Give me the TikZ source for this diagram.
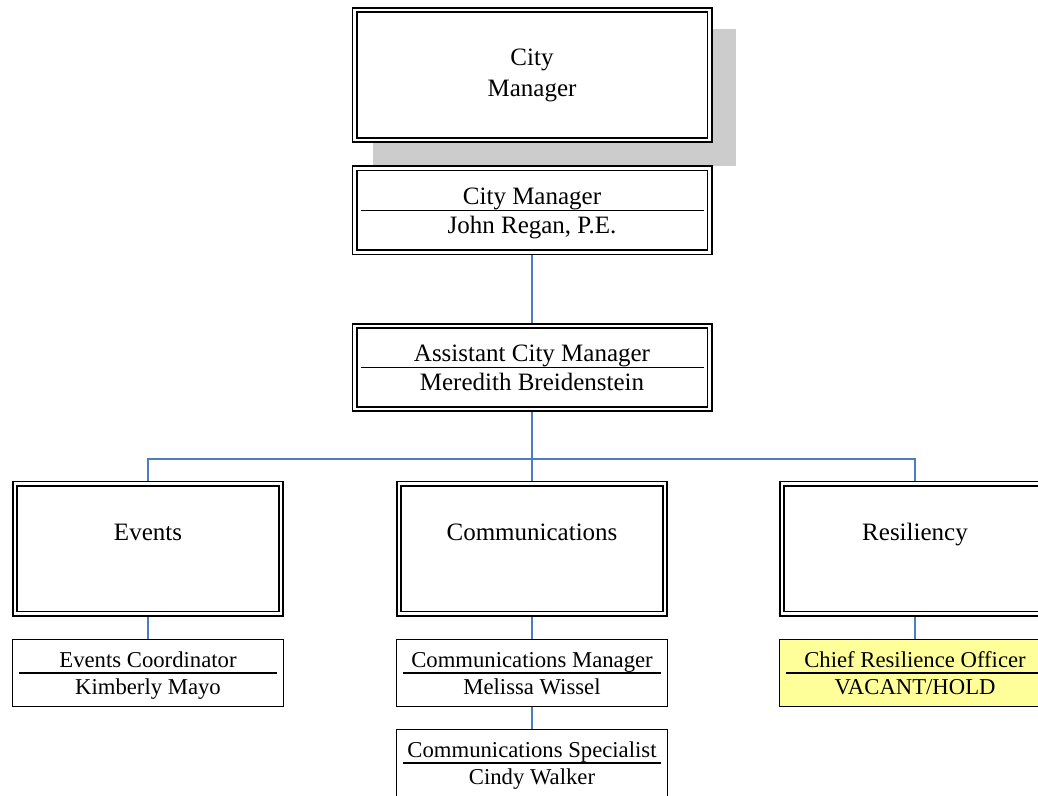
\documentclass[tikz,border=0pt]{standalone}
\usepackage{fontspec}
\setmainfont{Liberation Serif}
\definecolor{linkblue}{HTML}{4A7EC2}
\definecolor{shadowgray}{HTML}{CCCCCC}
\definecolor{vacant}{HTML}{FFFF99}
\tikzset{
  unit/.style={draw, fill=white, double, line width=0.9pt, double distance=1.2pt,
    outer sep=1.5pt, inner sep=0pt, align=center,
    font=\fontsize{12.5}{15.5}\selectfont},
  dept/.style={unit, minimum width=133pt, minimum height=65pt},
  post/.style={draw, fill=white, line width=0.7pt, inner sep=0pt,
    minimum width=135.3pt, minimum height=33.3pt},
  rule/.style={line width=0.75pt},
  link/.style={draw=linkblue, line width=0.65pt},
  head/.style={anchor=base, inner sep=0pt, font=\fontsize{12.5}{15}\selectfont},
  small/.style={anchor=base, inner sep=0pt, font=\fontsize{11.35}{13.5}\selectfont}
}
\begin{document}
\begin{tikzpicture}[x=0.5pt,y=-0.5pt]
  \useasboundingbox (0,0) rectangle (1038,796);
  % shadow behind the top box
  \fill[shadowgray] (373,29) rectangle (736,166);
  \node[unit, minimum width=177.5pt, minimum height=65pt] (top) at (532,75) {City\\Manager};
  \node[unit, minimum width=177.5pt, minimum height=42pt] (cm) at (532,210.5) {};
  \node[unit, minimum width=177.5pt, minimum height=41.5pt] (acm) at (532,367.5) {};
  % departments
  \node[dept] (ev) at (148,548.5) {};
  \node[dept] (comm) at (532,548.5) {};
  \node[dept] (res) at (915,548.5) {};
  % positions
  \node[post] (evc) at (148,673) {};
  \node[post] (cmgr) at (532,673) {};
  \node[post] (cspec) at (532,763) {};
  \node[post, fill=vacant] (cro) at (915,673) {};

  \node[head] (evT) at ([yshift=4.25pt]ev.center) {Events};
  \node[head] (commT) at ([yshift=4.25pt]comm.center) {Communications};
  \node[head] (resT) at ([yshift=4.25pt]res.center) {Resiliency};

  \draw[rule] ([xshift=4.5pt]cm.west) -- ([xshift=-4.5pt]cm.east);
  \node[head] (cmT) at ([yshift=3pt]cm.center) {City Manager};
  \node[head] (cmN) at ([yshift=-11.5pt]cm.center) {John Regan, P.E.};

  \draw[rule] ([xshift=4.5pt]acm.west) -- ([xshift=-4.5pt]acm.east);
  \node[head] (acmT) at ([yshift=3pt]acm.center) {Assistant City Manager};
  \node[head] (acmN) at ([yshift=-11.5pt]acm.center) {Meredith Breidenstein};

  \draw[rule] ([xshift=3.5pt]evc.west) -- ([xshift=-3.5pt]evc.east);
  \node[small] (evcT) at ([yshift=2.75pt]evc.center) {Events Coordinator};
  \node[small] (evcN) at ([yshift=-10.5pt]evc.center) {Kimberly Mayo};

  \draw[rule] ([xshift=3.5pt]cmgr.west) -- ([xshift=-3.5pt]cmgr.east);
  \node[small] (cmgrT) at ([yshift=2.75pt]cmgr.center) {Communications Manager};
  \node[small] (cmgrN) at ([yshift=-10.5pt]cmgr.center) {Melissa Wissel};

  \draw[rule] ([xshift=3.5pt]cspec.west) -- ([xshift=-3.5pt]cspec.east);
  \node[small] (cspecT) at ([yshift=2.75pt]cspec.center) {Communications Specialist};
  \node[small] (cspecN) at ([yshift=-10.5pt]cspec.center) {Cindy Walker};

  \draw[rule] ([xshift=3.5pt]cro.west) -- ([xshift=-3.5pt]cro.east);
  \node[small] (croT) at ([yshift=2.75pt]cro.center) {Chief Resilience Officer};
  \node[small] (croN) at ([yshift=-10.5pt]cro.center) {VACANT/HOLD};

  % connectors
  \coordinate (bus) at (532,459);
  \begin{scope}[link]
    \draw (cm) -- (acm);
    \draw (acm) -- (comm);
    \draw (ev.north) |- (bus) -| (res.north);
    \draw (ev) -- (evc);
    \draw (comm) -- (cmgr);
    \draw (cmgr) -- (cspec);
    \draw (res) -- (cro);
  \end{scope}
\end{tikzpicture}
\end{document}
